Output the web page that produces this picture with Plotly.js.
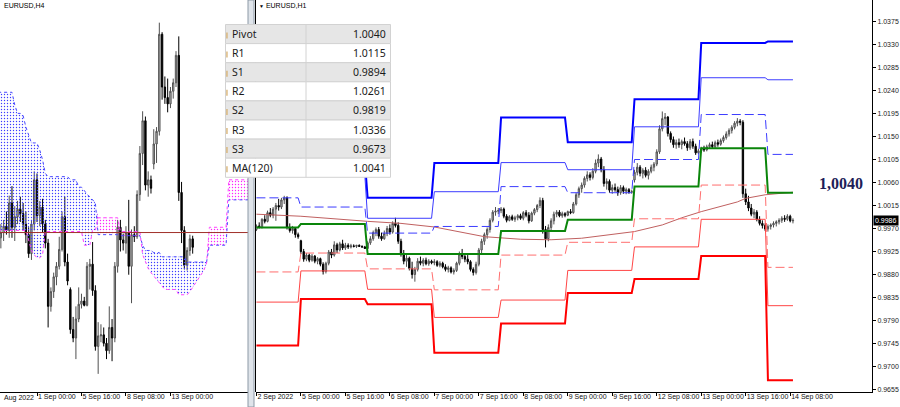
<!DOCTYPE html>
<html><head><meta charset="utf-8">
<script src="https://cdn.plot.ly/plotly-3.0.1.min.js"></script>
<style>html,body{margin:0;padding:0;background:#fff;}#chart{width:900px;height:407px;}</style>
</head><body><div id="chart"></div>
<script>
// ================= DATA =================
// ---- H1 chart (right) : 2 Sep 08:00 .. 14 Sep 09:00 ----
const h1DayLabels = ['2 Sep','5 Sep','6 Sep','7 Sep','8 Sep','9 Sep','12 Sep','13 Sep','14 Sep'];
const h1DayBars   = [16,24,24,24,24,24,24,24,10];

const pivotR3 = [1.0175,1.0102,1.0030,1.0098,1.0187,1.0139,1.0223,1.0333,1.0336];
const pivotR2 = [1.0116,1.0074,0.9990,1.0042,1.0099,1.0085,1.0169,1.0265,1.0261];
const pivotR1 = [1.0030,1.0012,0.9961,0.9974,1.0052,1.0040,1.0105,1.0193,1.0115];
const pivotP  = [0.9972,0.9979,0.9920,0.9920,0.9965,0.9987,1.0052,1.0127,1.0040];
const pivotS1 = [0.9885,0.9922,0.9891,0.9850,0.9918,0.9943,0.9989,1.0055,0.9894];
const pivotS2 = [0.9826,0.9887,0.9851,0.9796,0.9830,0.9888,0.9934,0.9988,0.9819];
const pivotS3 = [0.9741,0.9832,0.9822,0.9727,0.9784,0.9844,0.9871,0.9916,0.9673];

const h1Open = [
0.9968,0.9975,0.9972,0.9988,0.9984,1.0001,0.9996,1.0008,1.0015,1.0012,1.0026,1.0030,0.9972,0.9966,0.9970,0.9958,
0.9946,0.9925,0.9910,0.9918,0.9908,0.9916,0.9906,0.9911,0.9900,0.9886,0.9902,0.9924,0.9918,0.9938,0.9928,0.9940,0.9932,0.9937,0.9934,0.9936,0.9935,0.9937,0.9935,0.9934,
0.9931,0.9942,0.9950,0.9962,0.9968,0.9955,0.9950,0.9960,0.9970,0.9963,0.9980,0.9976,0.9945,0.9920,0.9906,0.9912,0.9892,0.9880,0.9890,0.9906,0.9902,0.9908,0.9901,0.9906,
0.9903,0.9905,0.9898,0.9902,0.9895,0.9890,0.9893,0.9885,0.9888,0.9902,0.9920,0.9915,0.9910,0.9905,0.9890,0.9884,0.9900,0.9928,0.9945,0.9958,0.9968,0.9986,1.0002,1.0004,
1.0005,1.0008,0.9994,0.9986,0.9993,0.9988,0.9991,0.9995,0.9990,1.0001,0.9996,0.9985,1.0000,1.0007,1.0015,1.0025,0.9968,0.9950,0.9972,0.9985,0.9998,1.0002,0.9995,0.9999,
0.9996,1.0003,1.0001,1.0018,1.0036,1.0048,1.0055,1.0068,1.0075,1.0070,1.0082,1.0098,1.0106,1.0085,1.0058,1.0062,1.0045,1.0050,1.0046,1.0040,1.0050,1.0043,1.0046,1.0041,
1.0065,1.0080,1.0090,1.0078,1.0084,1.0074,1.0082,1.0090,1.0096,1.0120,1.0165,1.0185,1.0188,1.0156,1.0144,1.0134,1.0138,1.0134,1.0140,1.0136,1.0128,1.0140,1.0131,1.0118,
1.0122,1.0126,1.0124,1.0130,1.0134,1.0130,1.0138,1.0135,1.0142,1.0148,1.0155,1.0162,1.0168,1.0176,1.0180,1.0178,1.0038,1.0022,1.0010,0.9998,1.0002,0.9988,0.9980,0.9976,
0.9969,0.9974,0.9977,0.9980,0.9983,0.9986,0.9990,0.9988,0.9994,0.9985];
const h1High = [
0.9978,0.9982,0.9990,0.9996,1.0005,1.0010,1.0012,1.0020,1.0028,1.0030,1.0034,1.0033,0.9980,0.9975,0.9972,0.9962,
0.9948,0.9930,0.9922,0.9921,0.9920,0.9918,0.9914,0.9913,0.9904,0.9905,0.9928,0.9930,0.9945,0.9942,0.9944,0.9948,0.9942,0.9941,0.9940,0.9939,0.9938,0.9939,0.9937,0.9936,
0.9945,0.9955,0.9966,0.9972,0.9973,0.9962,0.9966,0.9975,0.9978,0.9984,0.9991,0.9982,0.9950,0.9928,0.9918,0.9915,0.9905,0.9895,0.9912,0.9915,0.9912,0.9913,0.9910,0.9909,
0.9910,0.9908,0.9906,0.9905,0.9900,0.9897,0.9896,0.9892,0.9905,0.9925,0.9930,0.9922,0.9918,0.9908,0.9894,0.9905,0.9932,0.9950,0.9962,0.9972,0.9990,1.0006,1.0012,1.0010,
1.0012,1.0011,0.9998,0.9996,0.9997,0.9995,0.9998,0.9999,1.0004,1.0006,1.0002,1.0003,1.0010,1.0018,1.0031,1.0030,0.9975,0.9978,0.9990,1.0003,1.0006,1.0006,1.0003,1.0002,
1.0005,1.0008,1.0022,1.0040,1.0052,1.0060,1.0072,1.0082,1.0080,1.0088,1.0105,1.0115,1.0110,1.0092,1.0068,1.0066,1.0056,1.0058,1.0052,1.0055,1.0054,1.0050,1.0049,1.0046,
1.0085,1.0098,1.0094,1.0088,1.0090,1.0086,1.0095,1.0100,1.0125,1.0172,1.0199,1.0196,1.0190,1.0160,1.0150,1.0144,1.0146,1.0144,1.0148,1.0141,1.0145,1.0146,1.0136,1.0126,
1.0130,1.0132,1.0134,1.0138,1.0140,1.0142,1.0144,1.0146,1.0152,1.0160,1.0166,1.0172,1.0180,1.0186,1.0184,1.0182,1.0048,1.0034,1.0018,1.0008,1.0006,0.9994,0.9986,0.9980,
0.9978,0.9980,0.9984,0.9986,0.9990,0.9994,0.9996,0.9998,0.9997,0.9990];
const h1Low = [
0.9965,0.9970,0.9970,0.9980,0.9982,0.9992,0.9990,0.9985,1.0005,1.0008,1.0018,0.9968,0.9962,0.9960,0.9952,0.9950,
0.9920,0.9905,0.9906,0.9904,0.9905,0.9902,0.9900,0.9896,0.9880,0.9882,0.9898,0.9912,0.9915,0.9922,0.9925,0.9928,0.9928,0.9930,0.9931,0.9933,0.9932,0.9934,0.9932,0.9930,
0.9930,0.9938,0.9946,0.9955,0.9950,0.9946,0.9948,0.9955,0.9958,0.9960,0.9972,0.9940,0.9915,0.9900,0.9895,0.9888,0.9872,0.9866,0.9886,0.9898,0.9896,0.9898,0.9897,0.9900,
0.9898,0.9895,0.9894,0.9892,0.9886,0.9884,0.9882,0.9880,0.9885,0.9898,0.9910,0.9904,0.9900,0.9886,0.9878,0.9880,0.9896,0.9922,0.9938,0.9950,0.9962,0.9982,0.9995,0.9998,
1.0000,0.9990,0.9982,0.9984,0.9985,0.9983,0.9986,0.9987,0.9986,0.9992,0.9980,0.9983,0.9996,1.0002,1.0010,0.9960,0.9933,0.9945,0.9965,0.9978,0.9992,0.9992,0.9991,0.9992,
0.9994,0.9998,0.9999,1.0015,1.0030,1.0040,1.0050,1.0062,1.0064,1.0066,1.0078,1.0090,1.0080,1.0052,1.0046,1.0040,1.0038,1.0042,1.0034,1.0036,1.0038,1.0037,1.0038,1.0038,
1.0060,1.0074,1.0072,1.0068,1.0070,1.0066,1.0078,1.0082,1.0092,1.0116,1.0160,1.0172,1.0150,1.0138,1.0128,1.0126,1.0128,1.0125,1.0132,1.0122,1.0124,1.0126,1.0114,1.0115,
1.0118,1.0120,1.0121,1.0126,1.0127,1.0128,1.0130,1.0132,1.0138,1.0144,1.0150,1.0156,1.0164,1.0170,1.0172,1.0030,1.0016,1.0004,0.9994,0.9990,0.9984,0.9976,0.9970,0.9965,
0.9964,0.9968,0.9972,0.9974,0.9978,0.9981,0.9983,0.9985,0.9982,0.9980];
const h1Close = [
0.9975,0.9972,0.9988,0.9984,1.0001,0.9996,1.0008,1.0015,1.0012,1.0026,1.0030,0.9972,0.9966,0.9970,0.9958,0.9954,
0.9925,0.9910,0.9918,0.9908,0.9916,0.9906,0.9911,0.9900,0.9886,0.9902,0.9924,0.9918,0.9938,0.9928,0.9940,0.9932,0.9937,0.9934,0.9936,0.9935,0.9937,0.9935,0.9934,0.9931,
0.9942,0.9950,0.9962,0.9968,0.9955,0.9950,0.9960,0.9970,0.9963,0.9980,0.9976,0.9945,0.9920,0.9906,0.9912,0.9892,0.9880,0.9890,0.9906,0.9902,0.9908,0.9901,0.9906,0.9903,
0.9905,0.9898,0.9902,0.9895,0.9890,0.9893,0.9885,0.9888,0.9902,0.9920,0.9915,0.9910,0.9905,0.9890,0.9884,0.9900,0.9928,0.9945,0.9958,0.9968,0.9986,1.0002,1.0004,1.0005,
1.0008,0.9994,0.9986,0.9993,0.9988,0.9991,0.9995,0.9990,1.0001,0.9996,0.9985,1.0000,1.0007,1.0015,1.0025,0.9968,0.9950,0.9972,0.9985,0.9998,1.0002,0.9995,0.9999,0.9996,
1.0003,1.0001,1.0018,1.0036,1.0048,1.0055,1.0068,1.0075,1.0070,1.0082,1.0098,1.0106,1.0085,1.0058,1.0062,1.0045,1.0050,1.0046,1.0040,1.0050,1.0043,1.0046,1.0041,1.0042,
1.0080,1.0090,1.0078,1.0084,1.0074,1.0082,1.0090,1.0096,1.0120,1.0165,1.0185,1.0188,1.0156,1.0144,1.0134,1.0138,1.0134,1.0140,1.0136,1.0128,1.0140,1.0131,1.0118,1.0122,
1.0126,1.0124,1.0130,1.0134,1.0130,1.0138,1.0135,1.0142,1.0148,1.0155,1.0162,1.0168,1.0176,1.0180,1.0178,1.0038,1.0022,1.0010,0.9998,1.0002,0.9988,0.9980,0.9976,0.9969,
0.9974,0.9977,0.9980,0.9983,0.9986,0.9990,0.9988,0.9994,0.9985,0.9986];

// MA(120) at these bars
const maBars   = [0,16,40,52,64,82,95,106,117,136,146,153,160,167,173,176,183,193];
const maValues = [0.9998,0.9994,0.9984,0.9980,0.9973,0.9954,0.9949,0.9948,0.9951,0.9964,0.9977,0.9991,1.0003,1.0014,1.0022,1.0029,1.0036,1.0041];

const h1TickBars = [0,16,32,48,64,80,96,112,128,144,160,176,192];
const h1TickText = ['2 Sep 2022','5 Sep 00:00','5 Sep 16:00','6 Sep 08:00','7 Sep 00:00','7 Sep 16:00','8 Sep 08:00','9 Sep 00:00','9 Sep 16:00','12 Sep 08:00','13 Sep 00:00','13 Sep 16:00','14 Sep 08:00'];
const priceTicks = [0.9655,0.9700,0.9745,0.9790,0.9835,0.9880,0.9925,0.9970,1.0015,1.0060,1.0105,1.0150,1.0195,1.0240,1.0285,1.0330,1.0375];

// ---- H4 chart (left): bars counted from 1 Sep 00:00 ----
const h4FirstBar = -13;
const h4Open = [
0.9995,1.0000,1.0006,1.0002,1.0028,1.0005,1.0015,1.0022,1.0018,1.0008,0.9998,0.9980,1.0008,
1.0050,1.0016,1.0024,1.0008,0.9990,0.9930,0.9944,0.9958,0.9968,0.9984,1.0015,0.9972,
0.9946,0.9908,0.9900,0.9918,0.9932,0.9935,
0.9931,0.9968,0.9970,0.9945,0.9892,0.9902,
0.9903,0.9895,0.9888,0.9910,0.9900,0.9968,
1.0005,0.9993,0.9990,1.0000,0.9968,0.9998,
0.9996,1.0036,1.0075,1.0106,1.0045,1.0050,
1.0065,1.0084,1.0096,1.0188,1.0138,1.0128,
1.0122,1.0134,1.0142,1.0168,1.0038,1.0002,
0.9969,0.9983,0.9994];
const h4High = [
1.0008,1.0012,1.0020,1.0035,1.0044,1.0025,1.0030,1.0034,1.0028,1.0020,1.0005,1.0012,1.0058,
1.0056,1.0030,1.0032,1.0012,0.9994,0.9948,0.9962,0.9972,0.9996,1.0020,1.0034,0.9980,
0.9948,0.9920,0.9930,0.9948,0.9942,0.9939,
0.9972,0.9975,0.9991,0.9950,0.9915,0.9913,
0.9910,0.9900,0.9930,0.9918,0.9972,1.0012,
1.0012,0.9999,1.0006,1.0031,1.0003,1.0006,
1.0040,1.0082,1.0115,1.0110,1.0058,1.0054,
1.0098,1.0100,1.0199,1.0190,1.0148,1.0146,
1.0138,1.0146,1.0172,1.0186,1.0048,1.0006,
0.9986,0.9998,0.9997];
const h4Low = [
0.9985,0.9992,0.9998,0.9995,0.9995,0.9992,1.0008,1.0010,1.0002,0.9990,0.9976,0.9974,1.0002,
1.0010,1.0006,1.0000,0.9985,0.9910,0.9925,0.9938,0.9950,0.9965,0.9982,0.9968,0.9950,
0.9904,0.9896,0.9880,0.9915,0.9928,0.9930,
0.9930,0.9946,0.9940,0.9888,0.9866,0.9896,
0.9892,0.9880,0.9885,0.9878,0.9896,0.9962,
0.9982,0.9983,0.9980,0.9960,0.9933,0.9991,
0.9994,1.0030,1.0064,1.0040,1.0034,1.0037,
1.0060,1.0066,1.0092,1.0126,1.0122,1.0114,
1.0118,1.0127,1.0138,1.0030,0.9990,0.9965,
0.9964,0.9978,0.9980];
const h4Close = [
1.0000,1.0006,1.0002,1.0028,1.0005,1.0015,1.0022,1.0018,1.0008,0.9998,0.9980,1.0008,1.0050,
1.0016,1.0024,1.0008,0.9990,0.9930,0.9944,0.9958,0.9968,0.9984,1.0015,0.9972,0.9954,
0.9908,0.9900,0.9918,0.9932,0.9935,0.9931,
0.9968,0.9970,0.9945,0.9892,0.9902,0.9903,
0.9895,0.9888,0.9910,0.9900,0.9968,1.0005,
0.9993,0.9990,1.0000,0.9968,0.9998,0.9996,
1.0036,1.0075,1.0106,1.0045,1.0050,1.0042,
1.0084,1.0096,1.0188,1.0138,1.0128,1.0122,
1.0134,1.0142,1.0168,1.0038,1.0002,0.9969,
0.9983,0.9994,0.9986];
const h4TickBars = [0,16,32,48];
const h4TickText = ['1 Sep 00:00','5 Sep 16:00','8 Sep 08:00','13 Sep 00:00'];
const h4FirstLabel = 'Aug 2022';

// Ichimoku Senkou spans (shifted forward), bars from -14
const ichiFirstBar = -14;
const spanA = [
1.0133,1.0133,1.0133,1.0133,1.0133,1.0133,1.0121,1.0113,1.0113,1.0111,1.0100,1.0093,1.0085,1.0085,1.0085,
1.0078,1.0069,1.0056,1.0053,1.0053,1.0053,1.0053,1.0053,1.0053,1.0053,1.0053,1.0050,1.0050,1.0050,
1.0043,1.0043,1.0040,1.0036,1.0034,1.0031,1.0028,
0.9998,0.9998,0.9998,0.9998,0.9998,0.9998,0.9998,0.9998,
0.9997,0.9997,0.9997,0.9997,0.9997,0.9997,0.9997,0.9997,
0.9988,0.9983,0.9983,0.9983,0.9981,0.9981,0.9981,
0.9977,0.9977,0.9977,0.9977,0.9977,0.9977,0.9977,0.9977,0.9977,
0.9972,0.9972,0.9972,0.9972,0.9972,0.9972,0.9972,0.9972,
0.9988,0.9988,0.9988,0.9988,0.9988,0.9988,0.9988,
1.0031,1.0031,1.0031,1.0031,1.0031,1.0031,1.0031,1.0031];
const spanB = [
1.0002,1.0002,1.0002,1.0002,1.0002,1.0002,1.0002,1.0002,1.0002,1.0002,1.0002,
0.9993,0.9983,0.9979,0.9976,0.9976,0.9979,
1.0001,1.0001,1.0001,1.0001,1.0001,1.0001,1.0001,1.0001,1.0001,1.0001,1.0001,1.0001,1.0001,1.0001,
0.9988,0.9988,0.9988,1.0002,1.0002,
1.0014,1.0014,1.0014,1.0014,1.0014,1.0014,1.0014,1.0014,
1.0001,1.0001,1.0001,1.0001,1.0001,1.0001,1.0001,1.0001,
0.9979,0.9972,0.9966,0.9962,0.9959,0.9955,0.9953,0.9950,
0.9946,0.9946,0.9946,0.9946,0.9946,
0.9941,0.9941,0.9941,0.9941,
0.9944,0.9948,0.9952,0.9955,0.9960,0.9964,0.9971,
1.0005,1.0005,1.0005,1.0005,1.0005,1.0005,1.0005,
1.0050,1.0050,1.0050,1.0050,1.0050,1.0050,1.0050,1.0050];
const h4Level = 1.0000;

// ---- Pivot table ----
const tableLabels = ['Pivot','R1','S1','R2','S2','R3','S3','MA(120)'];
const tableValues = ['1.0040','1.0115','0.9894','1.0261','0.9819','1.0336','0.9673','1.0041'];

// ================= BUILD =================
const W = 900, H = 407;
const PX = x => x / W, PY = y => 1 - y / H;
const BARPX = 2.78;

function perBar(levels){
  const xs = [], ys = []; let bar = 0;
  h1DayBars.forEach((n, d) => { for (let k = 0; k < n; k++) { xs.push(bar++); ys.push(levels[d]); } });
  return {xs, ys};
}
const h1X = h1Close.map((_, i) => i);
const h4X = h4Close.map((_, i) => i + h4FirstBar);
const spanX = spanA.map((_, i) => i + ichiFirstBar);
const cloudTop = spanA.map((a, i) => Math.max(a, spanB[i]));

const traces = [];
const none = {width:0, color:'rgba(0,0,0,0)'};
// ---- left chart ----
traces.push({type:'scatter', mode:'lines', x:spanX, y:spanB, line:none, xaxis:'x', yaxis:'y', hoverinfo:'skip'});
traces.push({type:'scatter', mode:'lines', x:spanX, y:cloudTop, line:none, xaxis:'x', yaxis:'y', hoverinfo:'skip',
  fill:'tonexty', fillcolor:'rgba(0,0,0,0)', fillpattern:{shape:'.', fgcolor:'#3c3cff', bgcolor:'rgba(0,0,0,0)', size:3, solidity:0.17}});
traces.push({type:'scatter', mode:'lines', x:spanX, y:spanA, line:none, xaxis:'x', yaxis:'y', hoverinfo:'skip'});
traces.push({type:'scatter', mode:'lines', x:spanX, y:cloudTop, line:none, xaxis:'x', yaxis:'y', hoverinfo:'skip',
  fill:'tonexty', fillcolor:'rgba(0,0,0,0)', fillpattern:{shape:'.', fgcolor:'#ff20ff', bgcolor:'rgba(0,0,0,0)', size:3, solidity:0.17}});
traces.push({type:'scatter', mode:'lines', x:spanX, y:spanA, line:{color:'#4848ff', width:1, dash:'dot'}, xaxis:'x', yaxis:'y', hoverinfo:'skip'});
traces.push({type:'scatter', mode:'lines', x:spanX, y:spanB, line:{color:'#ff40ff', width:1, dash:'dot'}, xaxis:'x', yaxis:'y', hoverinfo:'skip'});
traces.push({type:'scatter', mode:'lines', x:[spanX[0], spanX[spanX.length-1]], y:[h4Level, h4Level], line:{color:'#a0302a', width:1}, xaxis:'x', yaxis:'y', hoverinfo:'skip'});
traces.push({type:'candlestick', x:h4X, open:h4Open, high:h4High, low:h4Low, close:h4Close, xaxis:'x', yaxis:'y',
  increasing:{line:{color:'#505050', width:1}, fillcolor:'#c4c4c4'},
  decreasing:{line:{color:'#000000', width:1}, fillcolor:'#000000'}, whiskerwidth:0, hoverinfo:'skip'});

// ---- right chart ----
traces.push({type:'scatter', mode:'lines', x:maBars, y:maValues, line:{color:'#c06060', width:1}, xaxis:'x2', yaxis:'y2', hoverinfo:'skip'});
const levelStyles = [
  {v:pivotR3, color:'#0000ff', width:2, dash:'solid'},
  {v:pivotR2, color:'#3c3cff', width:1, dash:'solid'},
  {v:pivotR1, color:'#3c3cff', width:1, dash:'9px,4px'},
  {v:pivotP,  color:'#0a850a', width:2, dash:'solid'},
  {v:pivotS1, color:'#ff6e6e', width:1, dash:'9px,4px'},
  {v:pivotS2, color:'#ff4646', width:1, dash:'solid'},
  {v:pivotS3, color:'#ff0000', width:2, dash:'solid'}
];
levelStyles.forEach(s => {
  const p = perBar(s.v);
  traces.push({type:'scatter', mode:'lines', x:p.xs, y:p.ys, line:{color:s.color, width:s.width, dash:s.dash}, xaxis:'x2', yaxis:'y2', hoverinfo:'skip'});
});
traces.push({type:'candlestick', x:h1X, open:h1Open, high:h1High, low:h1Low, close:h1Close, xaxis:'x2', yaxis:'y2',
  increasing:{line:{color:'#505050', width:1}, fillcolor:'#c4c4c4'},
  decreasing:{line:{color:'#000000', width:1}, fillcolor:'#000000'}, whiskerwidth:0, hoverinfo:'skip'});

// ---- layout ----
const tickFont = {family:'Liberation Sans, Arial, sans-serif', size:7, color:'#111'};
const shapes = [];
const annotations = [];

// separator between windows
shapes.push({type:'rect', xref:'paper', yref:'paper', x0:PX(248), x1:PX(254), y0:0, y1:1, fillcolor:'#dfe4ea', line:{color:'#8d99a6', width:1}, layer:'above'});
shapes.push({type:'line', xref:'paper', yref:'paper', x0:PX(255.5), x1:PX(255.5), y0:PY(392), y1:1, line:{color:'#000', width:1}, layer:'above'});

// pivot table
const tX0 = 225.5, tX1 = 390.5, tDiv = 306, tTop = 24.5, rowH = 19.1;
tableLabels.forEach((lab, i) => {
  const y0 = tTop + i * rowH, y1 = y0 + rowH;
  shapes.push({type:'rect', xref:'paper', yref:'paper', x0:PX(tX0), x1:PX(tX1), y0:PY(y1), y1:PY(y0),
    fillcolor: i % 2 === 0 ? '#e6e6e6' : '#ffffff', line:{color:'#d2d2d2', width:1}, layer:'above'});
  shapes.push({type:'line', xref:'paper', yref:'paper', x0:PX(tDiv), x1:PX(tDiv), y0:PY(y1), y1:PY(y0), line:{color:'#d2d2d2', width:1}, layer:'above'});
  shapes.push({type:'rect', xref:'paper', yref:'paper', x0:PX(226.3), x1:PX(227.6), y0:PY(y0 + 14), y1:PY(y0 + 8),
    fillcolor:'#d6ae6c', line:{width:0}, layer:'above'});
  annotations.push({xref:'paper', yref:'paper', x:PX(230), y:PY(y0 + rowH / 2), xanchor:'left', yanchor:'middle', showarrow:false,
    text:lab, font:{family:'Noto Sans, Open Sans, sans-serif', size:10.5, color:'#1a1a1a'}});
  annotations.push({xref:'paper', yref:'paper', x:PX(388), y:PY(y0 + rowH / 2), xanchor:'right', yanchor:'middle', showarrow:false,
    text:tableValues[i], font:{family:'Noto Sans, Open Sans, sans-serif', size:10.5, color:'#1a1a1a'}});
});

// window captions
annotations.push({xref:'paper', yref:'paper', x:PX(2), y:PY(5), xanchor:'left', yanchor:'middle', showarrow:false,
  text:'EURUSD,H4', font:{family:'Liberation Sans, Arial, sans-serif', size:7, color:'#000'}});
annotations.push({xref:'paper', yref:'paper', x:PX(257), y:PY(5), xanchor:'left', yanchor:'middle', showarrow:false,
  text:'<span style="font-size:5px">▼</span> EURUSD,H1', font:{family:'Liberation Sans, DejaVu Sans, sans-serif', size:7, color:'#000'}});
annotations.push({xref:'paper', yref:'paper', x:PX(2), y:PY(397.5), xanchor:'left', yanchor:'middle', showarrow:false,
  text:h4FirstLabel, font:tickFont});
// pivot value caption
annotations.push({xref:'paper', yref:'paper', x:PX(841), y:PY(184), xanchor:'center', yanchor:'middle', showarrow:false,
  text:'<b>' + tableValues[0].replace('.', ',') + '</b>', font:{family:'Liberation Serif, serif', size:16, color:'#1e1e58'}});
// current price box
const lastClose = h1Close[h1Close.length - 1];
annotations.push({xref:'paper', yref:'y2', x:PX(873), y:lastClose, xanchor:'left', yanchor:'middle', showarrow:false,
  text:lastClose.toFixed(4), bgcolor:'#000', borderpad:1, font:{family:'Liberation Sans, Arial, sans-serif', size:7, color:'#fff'}});

const layout = {
  width:W, height:H, margin:{l:0, r:0, t:0, b:0}, paper_bgcolor:'#fff', plot_bgcolor:'#fff', showlegend:false,
  xaxis:{domain:[0, PX(248)], range:[-37 / BARPX, (248 - 37) / BARPX], anchor:'y',
    showgrid:false, zeroline:false, showline:true, linecolor:'#000', linewidth:1,
    ticks:'outside', ticklen:3, tickcolor:'#000', tickvals:h4TickBars, ticktext:h4TickText, tickangle:0,
    ticklabelposition:'outside right', ticklabelstandoff:-2, tickfont:tickFont, rangeslider:{visible:false}, automargin:false},
  yaxis:{domain:[PY(392), 1], range:[0.98488, 1.02205], anchor:'x', visible:false, showgrid:false, zeroline:false},
  xaxis2:{domain:[PX(256), PX(872)], range:[-0.15, 616 / BARPX - 0.15], anchor:'y2',
    showgrid:false, zeroline:false, showline:true, linecolor:'#000', linewidth:1,
    ticks:'outside', ticklen:3, tickcolor:'#000', tickvals:h1TickBars, ticktext:h1TickText, tickangle:0,
    ticklabelposition:'outside right', ticklabelstandoff:-2, tickfont:tickFont, rangeslider:{visible:false}, automargin:false},
  yaxis2:{domain:[PY(392), 1], range:[0.96501, 1.04171], anchor:'x2', side:'right',
    showgrid:false, zeroline:false, showline:true, linecolor:'#000', linewidth:1,
    ticks:'outside', ticklen:3, tickcolor:'#000', tickvals:priceTicks, tickformat:'.4f',
    tickfont:{family:'Liberation Sans, Arial, sans-serif', size:7, color:'#222'}, automargin:false},
  shapes:shapes, annotations:annotations
};

Plotly.newPlot('chart', traces, layout, {staticPlot:true, displayModeBar:false});
</script></body></html>
